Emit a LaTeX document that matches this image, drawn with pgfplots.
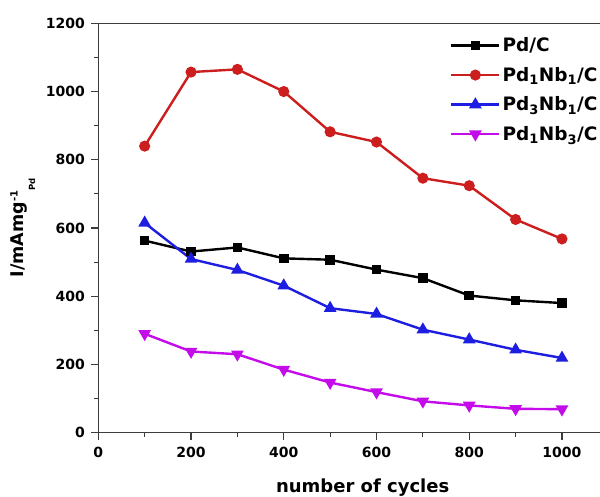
\documentclass[border=0pt]{standalone}
\usepackage{fontspec}
\setmainfont{DejaVu Sans}
\usepackage{pgfplots}
\pgfplotsset{compat=1.18}
\definecolor{cred}{RGB}{204,30,30}
\definecolor{cblue}{RGB}{30,30,226}
\definecolor{cmag}{RGB}{196,12,234}
\definecolor{axgray}{RGB}{60,60,60}
\begin{document}
\begin{tikzpicture}
\begin{axis}[
  name=ax,
  scale only axis,
  width=501.7pt, height=409.4pt,
  xmin=0, xmax=1082, ymin=0, ymax=1200,
  separate axis lines,
  axis x line*=box,
  axis y line*=left,
  axis line style={line width=1.3pt, color=axgray},
  xtick={0,200,...,1000}, minor xtick={100,300,...,900},
  ytick={0,200,...,1200}, minor ytick={100,300,...,1100},
  xtick pos=bottom, ytick pos=left,
  tick align=outside,
  major tick length=7pt, minor tick length=4pt,
  every tick/.style={axgray, line width=1.2pt},
  /pgf/number format/assume math mode=true,
  /pgf/number format/set thousands separator={},
  tick label style={font=\fontsize{14}{15}\selectfont\bfseries},
  xticklabel style={yshift=-4pt},
  yticklabel style={xshift=-3pt},
  xlabel={number of cycles},
  every axis x label/.style={at={(axis description cs:0.527,-0.1466)}, anchor=base, font=\fontsize{18}{20}\selectfont\bfseries},
  ylabel={I/mAmg\raisebox{5.5pt}{\fontsize{10}{11}\selectfont -1}\raisebox{-12pt}{\fontsize{8.5}{9}\selectfont Pd}},
  every axis y label/.style={at={(axis description cs:-0.150,0.5)}, rotate=90, anchor=base, font=\fontsize{17.5}{19}\selectfont\bfseries},
  legend style={draw=none, fill=none, at={(rel axis cs:0.695,0.975)}, anchor=north west,
    font=\fontsize{18.5}{20}\selectfont\bfseries, row sep=10pt,
    cells={anchor=west}},
  legend image code/.code={%
    \draw[mark repeat=2, mark phase=2, #1] plot coordinates {(0pt,0pt) (24pt,0pt) (48pt,0pt)};},
  every axis plot/.append style={line width=2.4pt},
]
\addplot[black, mark=square*, mark size=3.6pt, mark options={solid}] coordinates {
(100,563)(200,531)(300,543)(400,511)(500,507)(600,478)(700,453)(800,402)(900,388)(1000,380)};
\addlegendentry{Pd/C}
\addplot[cred, mark=*, mark size=4.3pt] coordinates {
(100,840)(200,1057)(300,1065)(400,1000)(500,882)(600,852)(700,746)(800,724)(900,625)(1000,568)};
\addlegendentry{Pd\textsubscript{1}Nb\textsubscript{1}/C}
\addplot[cblue, mark=triangle*, mark size=5pt] coordinates {
(100,615)(200,509)(300,477)(400,431)(500,365)(600,348)(700,302)(800,273)(900,243)(1000,219)};
\addlegendentry{Pd\textsubscript{3}Nb\textsubscript{1}/C}
\addplot[cmag, mark=triangle*, mark size=5pt, mark options={rotate=180}] coordinates {
(100,290)(200,238)(300,230)(400,185)(500,147)(600,119)(700,92)(800,80)(900,70)(1000,69)};
\addlegendentry{Pd\textsubscript{1}Nb\textsubscript{3}/C}
\end{axis}
\pgfresetboundingbox
\path[use as bounding box] ([xshift=-98.3pt,yshift=-63.3pt]ax.south west) rectangle ([yshift=23.3pt]ax.north east);
\end{tikzpicture}
\end{document}
